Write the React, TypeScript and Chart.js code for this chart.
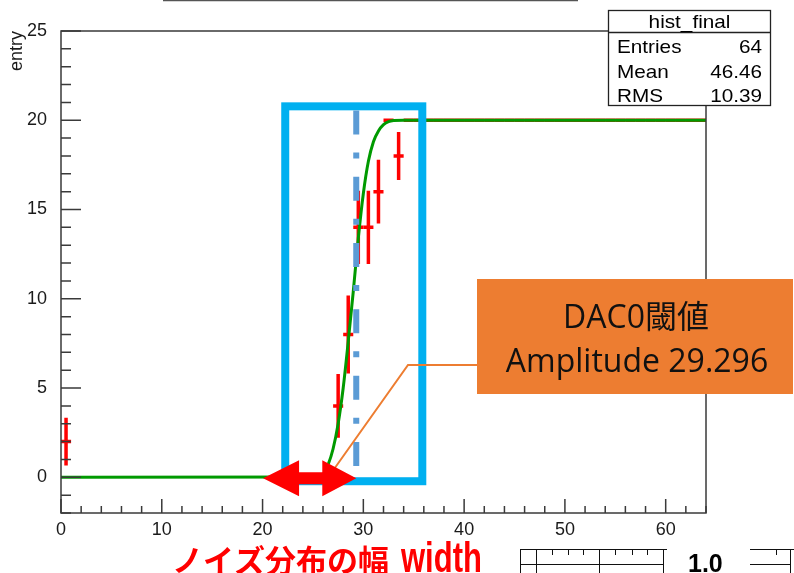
import React, { useEffect, useRef } from "react";
import { Chart, registerables } from "chart.js";

Chart.register(...registerables);

// ---- data ----
const binCenters = [
  0.5, 1.5, 2.5, 3.5, 4.5, 5.5, 6.5, 7.5, 8.5, 9.5, 10.5, 11.5, 12.5, 13.5, 14.5, 15.5,
  16.5, 17.5, 18.5, 19.5, 20.5, 21.5, 22.5, 23.5, 24.5, 25.5, 26.5, 27.5, 28.5, 29.5, 30.5, 31.5,
  32.5, 33.5, 34.5, 35.5, 36.5, 37.5, 38.5, 39.5, 40.5, 41.5, 42.5, 43.5, 44.5, 45.5, 46.5, 47.5,
  48.5, 49.5, 50.5, 51.5, 52.5, 53.5, 54.5, 55.5, 56.5, 57.5, 58.5, 59.5, 60.5, 61.5, 62.5, 63.5,
];
const binValues = [
  2, 0, 0, 0, 0, 0, 0, 0, 0, 0, 0, 0, 0, 0, 0, 0,
  0, 0, 0, 0, 0, 0, 0, 0, 0, 0, 0, 4, 8, 14, 14, 16,
  20, 18, 20, 20, 20, 20, 20, 20, 20, 20, 20, 20, 20, 20, 20, 20,
  20, 20, 20, 20, 20, 20, 20, 20, 20, 20, 20, 20, 20, 20, 20, 20,
];
const binErrors = [
  1.34, 0, 0, 0, 0, 0, 0, 0, 0, 0, 0, 0, 0, 0, 0, 0,
  0, 0, 0, 0, 0, 0, 0, 0, 0, 0, 0, 1.79, 2.19, 2.05, 2.05, 1.79,
  0, 1.34, 0, 0, 0, 0, 0, 0, 0, 0, 0, 0, 0, 0, 0, 0,
  0, 0, 0, 0, 0, 0, 0, 0, 0, 0, 0, 0, 0, 0, 0, 0,
];
const fitX = [0, 25.5, 26.0, 26.5, 27.0, 27.5, 28.0, 28.5, 29.0, 29.5, 30.0, 30.5, 31.0, 31.5, 32.0, 32.5, 33.0, 34.0, 64];
const fitY = [0, 0.02, 0.15, 0.7, 1.6, 3.0, 5.0, 7.6, 10.4, 13.4, 15.9, 17.7, 18.8, 19.4, 19.75, 19.92, 19.98, 20, 20];

const xTickValues = [0, 10, 20, 30, 40, 50, 60];
const yTickValues = [0, 5, 10, 15, 20, 25];

const statsTitle = "hist_final";
const statsLabels = ["Entries", "Mean", "RMS"];
const statsValues = ["64", "46.46", "10.39"];

const thresholdValue = 29.296;
const calloutLine1 = "DAC0閾値";
const calloutLine2 = "Amplitude 29.296";
const bottomLabelJa = "ノイズ分布の幅";
const bottomLabelEn = "width";
const fragmentLabel = "1.0";

// annotation extents (data units)
const boxXRange = [22.25, 35.85];
const boxYRange = [-0.22, 20.78];
const thresholdYRange = [0, 20.55];
const arrowXRange = [20.05, 29.3];

const FONT = '"Liberation Sans", Arial, Helvetica, sans-serif';
const AXIS_COLOR = "#3a3a3a";

function txt(ctx: CanvasRenderingContext2D, s: string, x: number, y: number, font: string, align: CanvasTextAlign, color: string, sx = 1, sy = 1) {
  ctx.save();
  ctx.translate(x, y);
  ctx.scale(sx, sy);
  ctx.font = font;
  ctx.textAlign = align;
  ctx.textBaseline = "alphabetic";
  ctx.fillStyle = color;
  ctx.fillText(s, 0, 0);
  ctx.restore();
}

const histPlugin = {
  id: "histErrors",
  beforeDatasetsDraw(chart: any) {
    const { ctx, scales } = chart;
    const xs = scales.x;
    const ys = scales.y;
    const meta = chart.getDatasetMeta(1);
    ctx.save();
    ctx.strokeStyle = "#ff0000";
    ctx.lineWidth = 3.5;
    ctx.lineCap = "butt";
    for (let i = 0; i < binValues.length; i++) {
      const v = binValues[i];
      const e = binErrors[i];
      if (v === 0 && e === 0) continue;
      const el = meta.data[i];
      const cx = el.x;
      const cy = el.y;
      const x0 = xs.getPixelForValue(binCenters[i] - 0.5);
      const x1 = xs.getPixelForValue(binCenters[i] + 0.5);
      ctx.beginPath();
      ctx.moveTo(x0, cy);
      ctx.lineTo(x1, cy);
      if (e > 0) {
        ctx.moveTo(cx, ys.getPixelForValue(v + e));
        ctx.lineTo(cx, ys.getPixelForValue(v - e));
      }
      ctx.stroke();
    }
    ctx.restore();
  },
  afterDatasetsDraw(chart: any) {
    const { ctx, chartArea, scales } = chart;
    const xs = scales.x;
    const ys = scales.y;
    const { left, right, top, bottom } = chartArea;
    ctx.save();
    // frame
    ctx.strokeStyle = AXIS_COLOR;
    ctx.lineWidth = 1.5;
    ctx.strokeRect(left, top, right - left, bottom - top);
    // inward ticks
    ctx.beginPath();
    for (let v = xs.min; v <= xs.max; v += 2) {
      const px = xs.getPixelForValue(v);
      const len = v % 10 === 0 ? 14 : 7;
      ctx.moveTo(px, bottom);
      ctx.lineTo(px, bottom - len);
    }
    for (let v = ys.min; v <= ys.max; v += 1) {
      const py = ys.getPixelForValue(v);
      const len = v % 5 === 0 ? 20 : 10;
      ctx.moveTo(left, py);
      ctx.lineTo(left + len, py);
    }
    ctx.stroke();

    // blue box
    ctx.strokeStyle = "#00b0f0";
    ctx.lineWidth = 8;
    ctx.lineJoin = "miter";
    const bx0 = xs.getPixelForValue(boxXRange[0]);
    const bx1 = xs.getPixelForValue(boxXRange[1]);
    const by0 = ys.getPixelForValue(boxYRange[1]);
    const by1 = ys.getPixelForValue(boxYRange[0]);
    ctx.strokeRect(bx0, by0, bx1 - bx0, by1 - by0);

    // threshold dash-dot line
    const tx = xs.getPixelForValue(thresholdValue);
    ctx.strokeStyle = "#5b9bd5";
    ctx.lineWidth = 6;
    ctx.setLineDash([24, 18, 6, 18.3]);
    ctx.beginPath();
    ctx.moveTo(tx, ys.getPixelForValue(thresholdYRange[1]));
    ctx.lineTo(tx, ys.getPixelForValue(thresholdYRange[0]));
    ctx.stroke();
    ctx.setLineDash([]);

    // orange connector
    ctx.strokeStyle = "#ed7d31";
    ctx.lineWidth = 2;
    ctx.beginPath();
    ctx.moveTo(327, 479);
    ctx.lineTo(408, 365);
    ctx.lineTo(478, 365);
    ctx.stroke();

    // red double arrow
    const ax0 = xs.getPixelForValue(arrowXRange[0]);
    const ax1 = xs.getPixelForValue(arrowXRange[1]);
    const ay = ys.getPixelForValue(0) + 1;
    const hl = 36, hh = 18, sh = 6;
    ctx.fillStyle = "#ff0000";
    ctx.beginPath();
    ctx.moveTo(ax0, ay);
    ctx.lineTo(ax0 + hl, ay - hh);
    ctx.lineTo(ax0 + hl, ay - sh);
    ctx.lineTo(ax1 - hl + 2, ay - sh);
    ctx.lineTo(ax1 - hl + 2, ay - hh);
    ctx.lineTo(ax1, ay);
    ctx.lineTo(ax1 - hl + 2, ay + hh);
    ctx.lineTo(ax1 - hl + 2, ay + sh);
    ctx.lineTo(ax0 + hl, ay + sh);
    ctx.lineTo(ax0 + hl, ay + hh);
    ctx.closePath();
    ctx.fill();

    // orange callout box
    ctx.fillStyle = "#ed7d31";
    ctx.fillRect(477, 279, 316, 115);
    const cf = '32px "Open Sans", "Noto Sans", "Noto Sans CJK JP", sans-serif';
    txt(ctx, calloutLine1, 636, 328, cf, "center", "#111111");
    txt(ctx, calloutLine2, 637, 372, cf, "center", "#111111");

    // stats box
    ctx.fillStyle = "#ffffff";
    ctx.fillRect(608, 10, 163, 96);
    ctx.strokeStyle = "#222222";
    ctx.lineWidth = 1.3;
    ctx.strokeRect(608.5, 10.5, 162, 95);
    ctx.beginPath();
    ctx.moveTo(608, 32.5);
    ctx.lineTo(771, 32.5);
    ctx.stroke();
    const sf = `18.5px ${FONT}`;
    txt(ctx, statsTitle, 689.5, 27.5, sf, "center", "#000", 1.12);
    const rowY = [53, 78, 102];
    for (let i = 0; i < statsLabels.length; i++) {
      txt(ctx, statsLabels[i], 617, rowY[i], sf, "left", "#000", 1.12);
      txt(ctx, statsValues[i], 762, rowY[i], sf, "right", "#000", 1.12);
    }

    // title remnant line at top
    ctx.strokeStyle = "#555555";
    ctx.lineWidth = 1.5;
    ctx.beginPath();
    ctx.moveTo(163, 0.5);
    ctx.lineTo(578, 0.5);
    ctx.stroke();

    // bottom texts
    txt(ctx, bottomLabelJa, 172, 572, 'bold 31px "Noto Sans CJK JP", sans-serif', "left", "#ff0000");
    txt(ctx, bottomLabelEn, 401, 572, `bold 31px ${FONT}`, "left", "#ff0000", 1, 1.35);
    txt(ctx, fragmentLabel, 688, 572, `bold 25px ${FONT}`, "left", "#000");

    // bottom right fragments of another plot
    ctx.strokeStyle = "#111111";
    ctx.lineWidth = 1;
    ctx.beginPath();
    ctx.moveTo(520, 549.5); ctx.lineTo(667, 549.5);
    ctx.moveTo(520, 564.5); ctx.lineTo(664, 564.5);
    for (const vx of [520.5, 536.5, 599.5, 663.5]) { ctx.moveTo(vx, 549); ctx.lineTo(vx, 573); }
    for (const vx of [552.5, 568.5, 583.5, 615.5, 632.5, 647.5]) { ctx.moveTo(vx, 549); ctx.lineTo(vx, 555); }
    ctx.moveTo(750, 549.5); ctx.lineTo(794, 549.5);
    ctx.moveTo(750, 564.5); ctx.lineTo(790, 564.5);
    ctx.moveTo(776.5, 549); ctx.lineTo(776.5, 555);
    ctx.moveTo(790.5, 549); ctx.lineTo(790.5, 573);
    ctx.stroke();
    ctx.restore();
  },
};

export default function App() {
  const ref = useRef<HTMLCanvasElement | null>(null);
  useEffect(() => {
    if (!ref.current) return;
    const chart = new Chart(ref.current, {
      type: "scatter",
      data: {
        datasets: [
          {
            label: "fit",
            data: fitX.map((x, i) => ({ x, y: fitY[i] })),
            showLine: true,
            borderColor: "#009a00",
            borderWidth: 3,
            pointRadius: 0,
            cubicInterpolationMode: "monotone",
            order: 0,
          } as any,
          {
            label: "hist_final",
            data: binCenters.map((x, i) => ({ x, y: binValues[i] })),
            showLine: false,
            pointRadius: 0,
            order: 1,
          },
        ],
      },
      options: {
        responsive: false,
        animation: false,
        devicePixelRatio: 1,
        layout: { padding: { left: 0, top: 31, right: 88, bottom: 0 } },
        plugins: { legend: { display: false }, tooltip: { enabled: false } },
        scales: {
          x: {
            type: "linear",
            min: 0,
            max: 64,
            grid: { display: false },
            border: { display: false },
            afterBuildTicks: (s: any) => { s.ticks = xTickValues.map((v) => ({ value: v })); },
            afterFit: (s: any) => { s.height = 60; },
            ticks: { autoSkip: false, maxRotation: 0, padding: -2, color: "#1a1a1a", font: { family: FONT, size: 18 } },
          },
          y: {
            type: "linear",
            min: -2,
            max: 25,
            grid: { display: false },
            border: { display: false },
            afterBuildTicks: (s: any) => { s.ticks = yTickValues.map((v) => ({ value: v })); },
            afterFit: (s: any) => { s.width = 61; },
            ticks: { autoSkip: false, padding: 6, color: "#1a1a1a", font: { family: FONT, size: 18 } },
            title: { display: true, text: "entry", align: "end", color: "#1a1a1a", font: { family: FONT, size: 18 }, padding: { top: 6, bottom: 0 } },
          },
        },
      },
      plugins: [histPlugin],
    });
    return () => chart.destroy();
  }, []);
  return (
    <div style={{ position: "fixed", left: 0, top: 0, width: 794, height: 573, background: "#fff" }}>
      <canvas ref={ref} width={794} height={573} style={{ display: "block", width: 794, height: 573 }} />
    </div>
  );
}
